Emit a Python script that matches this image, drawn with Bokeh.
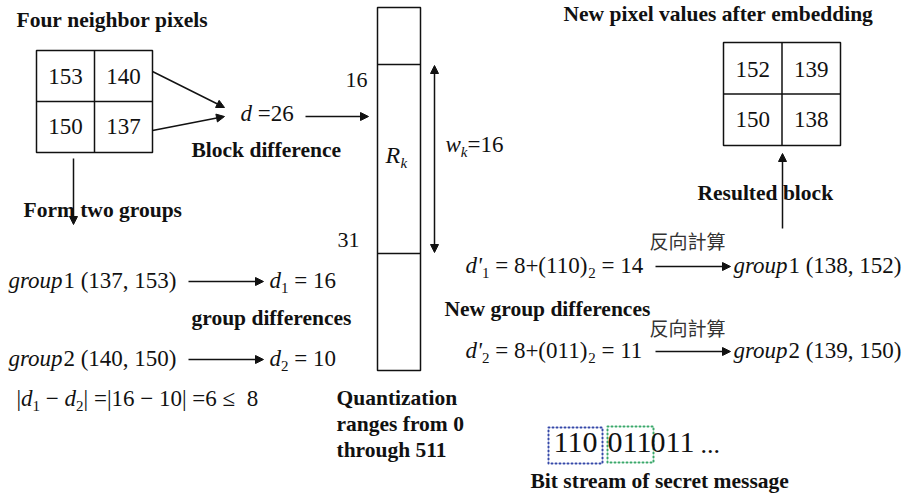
from bokeh.plotting import figure
from bokeh.models import Range1d, Arrow, NormalHead, ColumnDataSource
from bokeh.core.properties import value
from bokeh.embed import file_html
from bokeh.resources import INLINE

# ---------------- data ----------------
original_block = [153, 140, 150, 137]      # 2x2 block, row-major
embedded_block = [152, 139, 150, 138]      # 2x2 block after embedding
block_diff = 26
range_lower, range_upper, range_width = 16, 31, 16
group1 = [137, 153]
group2 = [140, 150]
group_diffs = [16, 10]
threshold = 8
quant_max = 511
secret_bits = ["110", "011", "011"]
base_value = 8
new_group_diffs = [14, 11]
new_group1 = [138, 152]
new_group2 = [139, 150]
reverse_label = "反向計算"

# ---------------- styling ----------------
SERIF = "Liberation Serif, Times New Roman, DejaVu Serif, serif"
CJK = "Noto Sans CJK TC"
INK = "#111111"
REG, SUB, LAB = 23, 15, 21.5
FIX_ALPHA = 0.36   # empirical baseline correction (fraction of font size)
FIX_MID = 0.22
NB = "\u00a0"

W, H = 905, 497
p = figure(width=W, height=H, x_range=Range1d(0, W), y_range=Range1d(H, 0),
           output_backend="svg", toolbar_location=None, x_axis_type=None, y_axis_type=None,
           min_border=0, outline_line_color=None, background_fill_color="white",
           border_fill_color="white")
p.xgrid.visible = False
p.ygrid.visible = False

REG_W = {' ': .25, '(': .333, ')': .333, ',': .25, '=': .564, '+': .564, '−': .564,
         '|': .2, '≤': .549, "'": .18, '.': .25}
for ch in "0123456789":
    REG_W[ch] = .5
IT_W = {'d': .5, 'g': .5, 'r': .389, 'o': .5, 'u': .5, 'p': .5, 'w': .667, 'k': .444,
        'R': .611, "'": .214}

texts = {s: dict(x=[], y=[], text=[], size=[], align=[]) for s in ("normal", "italic", "bold")}


def put(txt, x, y, style="normal", size=REG, align="left"):
    d = texts[style]
    d["x"].append(x); d["y"].append(y - FIX_ALPHA * size); d["text"].append(txt.replace(" ", NB))
    d["size"].append(f"{size}px"); d["align"].append(align)


def seq(x, yb, pieces):
    for txt, kind in pieces:
        italic = kind in ("it", "subit")
        size = SUB if kind in ("sub", "subit") else REG
        dy = 5 if kind in ("sub", "subit") else 0
        put(txt, x, yb + dy, "italic" if italic else "normal", size)
        table = IT_W if italic else REG_W
        x += sum(table.get(c, .5) for c in txt) * size
    return x


def arrow(x0, y0, x1, y1, both=False):
    head = lambda: NormalHead(size=8, fill_color=INK, line_color=INK, line_width=1)
    p.add_layout(Arrow(end=head(), start=head() if both else None,
                       x_start=x0, y_start=y0, x_end=x1, y_end=y1,
                       line_color=INK, line_width=1.5))


def grid(x0, x1, y0, y1, vals, b0, b1):
    xm, ym = (x0 + x1) / 2, (y0 + y1) / 2
    p.quad(left=[x0], right=[x1], top=[y0], bottom=[y1], fill_color=None,
           line_color=INK, line_width=1.5)
    p.segment(x0=[xm, x0], x1=[xm, x1], y0=[y0, ym], y1=[y1, ym], line_color=INK, line_width=1.5)
    cx = [(x0 + xm) / 2, (xm + x1) / 2]
    for i, v in enumerate(vals):
        put(str(v), cx[i % 2], b0 if i < 2 else b1, "normal", REG, "center")


# ---------------- left block ----------------
put("Four neighbor pixels", 16, 27, "bold", LAB)
grid(36, 152, 50, 152, original_block, 84, 134)
arrow(152, 71, 224, 107)
arrow(152, 130, 224, 116)
seq(240, 121, [("d", "it"), (f" ={block_diff}", "r")])
arrow(305, 116, 368, 116)
put("Block difference", 191, 157, "bold", LAB)
arrow(73, 158, 73, 224)
put("Form two groups", 23, 217, "bold", LAB)

seq(8, 288, [("group", "it"), (f"1 ({group1[0]}, {group1[1]})", "r")])
arrow(188, 281, 263, 281)
seq(269, 288, [("d", "it"), ("1", "sub"), (f" = {group_diffs[0]}", "r")])
put("group differences", 191, 325, "bold", LAB)
seq(8, 366, [("group", "it"), (f"2 ({group2[0]}, {group2[1]})", "r")])
arrow(188, 359, 263, 359)
seq(269, 366, [("d", "it"), ("2", "sub"), (f" = {group_diffs[1]}", "r")])
gap = abs(group_diffs[0] - group_diffs[1])
seq(16, 406, [("|", "r"), ("d", "it"), ("1", "sub"), (" − ", "r"), ("d", "it"), ("2", "sub"),
              (f"| =|{group_diffs[0]} − {group_diffs[1]}| ={gap} ≤  {threshold}", "r")])

# ---------------- quantization bar ----------------
p.quad(left=[377], right=[420], top=[7], bottom=[370], fill_color=None, line_color=INK, line_width=1.5)
p.segment(x0=[377, 377], x1=[420, 420], y0=[64, 253], y1=[64, 253], line_color=INK, line_width=1.5)
put(str(range_lower), 345, 87, "normal", 22)
put(str(range_upper), 337, 247, "normal", 22)
put("R", 385, 163, "italic", 24)
put("k", 400, 168, "italic", 15)
arrow(434, 252, 434, 65, both=True)
seq(445, 152, [("w", "it"), ("k", "subit"), (f"={range_width}", "r")])
put("Quantization", 336, 405, "bold", LAB)
put("ranges from 0", 336, 431, "bold", LAB)
put(f"through {quant_max}", 336, 457, "bold", LAB)

# ---------------- right side ----------------
put("New pixel values after embedding", 563, 21, "bold", LAB)
grid(723, 840, 42, 145, embedded_block, 77, 127)
arrow(782, 228, 782, 153)
put("Resulted block", 697, 200, "bold", LAB)

seq(465, 273, [("d", "it"), ("'", "it"), ("1", "sub"), (f" = {base_value}+({secret_bits[0]})", "r"),
               ("2", "sub"), (f" = {new_group_diffs[0]}", "r")])
arrow(655, 266, 730, 266)
seq(733, 273, [("group", "it"), (f"1 ({new_group1[0]}, {new_group1[1]})", "r")])
put("New group differences", 444, 316, "bold", LAB)
seq(465, 358, [("d", "it"), ("'", "it"), ("2", "sub"), (f" = {base_value}+({secret_bits[1]})", "r"),
               ("2", "sub"), (f" = {new_group_diffs[1]}", "r")])
arrow(655, 351, 730, 351)
seq(733, 358, [("group", "it"), (f"2 ({new_group2[0]}, {new_group2[1]})", "r")])

p.text(x=[649, 649], y=[244 - FIX_MID * 19, 331 - FIX_MID * 19], text=[reverse_label, reverse_label],
       text_font=value(CJK), text_font_size="19px", text_color="#333333",
       text_baseline="middle", text_align="left")

# ---------------- bit stream ----------------
p.quad(left=[548], right=[602], top=[427], bottom=[463], fill_color=None, line_color="#3548a8",
       line_width=2, line_dash="1 3", line_cap="round")
p.quad(left=[607], right=[653], top=[426], bottom=[462], fill_color=None, line_color="#3aa86a",
       line_width=2, line_dash="1 3", line_cap="round")
bit_x = [553, 607, 650]
p.text(x=bit_x, y=[453 - FIX_ALPHA * 30] * 3, text=secret_bits, text_font=value(SERIF),
       text_font_size="30px", text_color=INK, text_baseline="alphabetic")
p.text(x=[700], y=[453 - FIX_ALPHA * 26], text=["..."], text_font=value(SERIF), text_font_size="26px",
       text_color=INK, text_baseline="alphabetic")
put("Bit stream of secret message", 530, 488, "bold", LAB)

# ---------------- render texts ----------------
for style, d in texts.items():
    src = ColumnDataSource(d)
    p.text(x="x", y="y", text="text", source=src, text_font=value(SERIF),
           text_font_size="size", text_font_style=style, text_align="align",
           text_baseline="alphabetic", text_color=INK)

open("out.html", "w").write(file_html(p, INLINE))
